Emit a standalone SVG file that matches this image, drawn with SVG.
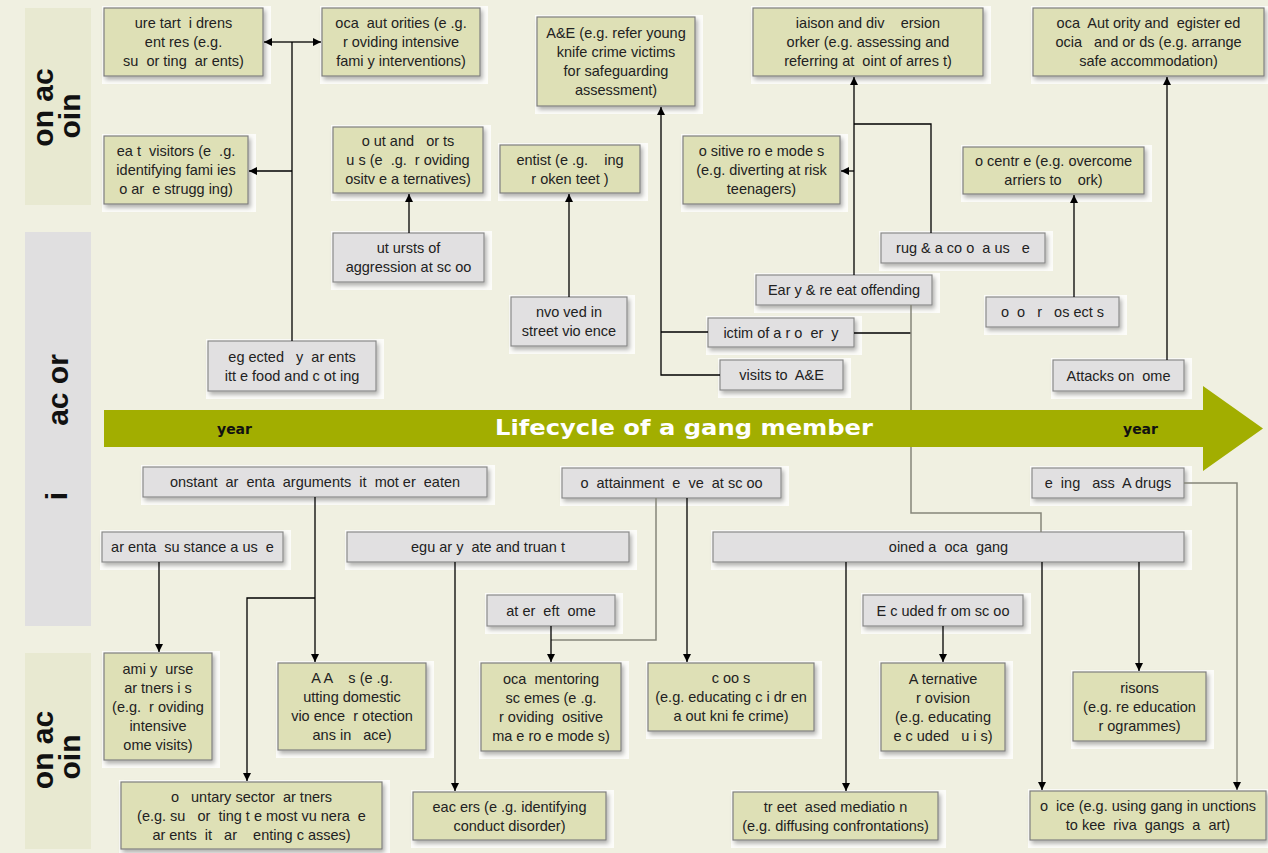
<svg xmlns="http://www.w3.org/2000/svg" width="1268" height="853" viewBox="0 0 1268 853">
<style>
.bg{fill:#f0f0e1}
.pl{fill:#e8e9d1}
.pm{fill:#e0dfe0}
.h{fill:#ffffff;opacity:.8}
.g{fill:#dee0b6;stroke:#7f7f7f;stroke-width:1.2}
.k{fill:#e1e0e1;stroke:#8a8a8a;stroke-width:1.2}
.t{font-family:"Liberation Sans",Arial,sans-serif;font-size:14.5px;fill:#222;text-anchor:middle;white-space:pre}
.pt{font-family:"Liberation Sans",Arial,sans-serif;font-size:30px;font-weight:bold;fill:#111;text-anchor:middle}
.yr{font-family:"DejaVu Sans",sans-serif;font-size:14px;font-weight:bold;fill:#111;text-anchor:middle}
.ti{font-family:"DejaVu Sans",sans-serif;font-size:21px;font-weight:bold;fill:#fff;text-anchor:middle}
.c{fill:none;stroke:#000;stroke-width:1.3}
.cg{fill:none;stroke:#85857a;stroke-width:1.5}
</style>
<defs>
<marker id="ah" viewBox="0 0 10 10" refX="10" refY="5" markerWidth="8" markerHeight="8" markerUnits="userSpaceOnUse" orient="auto"><path d="M0,0L10,5L0,10z" fill="#000"/></marker>
<filter id="sh" x="-10%" y="-10%" width="130%" height="150%"><feDropShadow dx="2" dy="3" stdDeviation="2" flood-color="#000" flood-opacity="0.3"/></filter>
</defs>
<rect class="bg" x="0" y="0" width="1268" height="853"/>
<g id="panels">
<rect class="pl" x="25" y="8" width="66" height="197"/>
<rect class="pm" x="25" y="232" width="66" height="394"/>
<rect class="pl" x="25" y="653" width="66" height="196"/>
<text class="pt" transform="translate(53,107.5) rotate(-90)">on ac</text>
<text class="pt" transform="translate(80,116) rotate(-90)">oin</text>
<text class="pt" transform="translate(68,390) rotate(-90)">ac or</text>
<text class="pt" transform="translate(67,496) rotate(-90)">i</text>
<text class="pt" transform="translate(53,750) rotate(-90)">on ac</text>
<text class="pt" transform="translate(80,757) rotate(-90)">oin</text>
</g>
<g id="n1"><rect class="h" x="102" y="6" width="169" height="78"/><rect class="g" filter="url(#sh)" x="104" y="8" width="159" height="68"/><text class="t" x="183.5" y="28"><tspan x="183.5" y="28">ure tart  i drens</tspan><tspan x="183.5" y="47">ent res (e.g.</tspan><tspan x="183.5" y="66">su  or ting  ar ents)</tspan></text></g>
<g id="n2"><rect class="h" x="320" y="6" width="168" height="78"/><rect class="g" filter="url(#sh)" x="322" y="8" width="158" height="68"/><text class="t"><tspan x="401" y="28">oca  aut orities (e .g.</tspan><tspan x="401" y="47">r oviding intensive</tspan><tspan x="401" y="66">fami y interventions)</tspan></text></g>
<g id="n3"><rect class="h" x="535" y="15" width="168" height="99"/><rect class="g" filter="url(#sh)" x="537" y="17" width="158" height="89"/><text class="t"><tspan x="616" y="38">A&amp;E (e.g. refer young</tspan><tspan x="616" y="57">knife crime victims</tspan><tspan x="616" y="76">for safeguarding</tspan><tspan x="616" y="95">assessment)</tspan></text></g>
<g id="n4"><rect class="h" x="751" y="6" width="240" height="78"/><rect class="g" filter="url(#sh)" x="753" y="8" width="230" height="68"/><text class="t"><tspan x="868" y="28">iaison and div    ersion</tspan><tspan x="868" y="47">orker (e.g. assessing and</tspan><tspan x="868" y="66">referring at  oint of arres t)</tspan></text></g>
<g id="n5"><rect class="h" x="1031" y="6" width="237" height="78"/><rect class="g" filter="url(#sh)" x="1033" y="8" width="231" height="68"/><text class="t"><tspan x="1148.5" y="28">oca  Aut ority and  egister ed</tspan><tspan x="1148.5" y="47">ocia   and or ds (e.g. arrange</tspan><tspan x="1148.5" y="66">safe accommodation)</tspan></text></g>
<g id="n6"><rect class="h" x="102" y="134" width="154" height="78"/><rect class="g" filter="url(#sh)" x="104" y="136" width="144" height="68"/><text class="t"><tspan x="176" y="156">ea t  visitors (e  .g.</tspan><tspan x="176" y="175">identifying fami ies</tspan><tspan x="176" y="194">o ar  e strugg ing)</tspan></text></g>
<g id="n7"><rect class="h" x="331" y="125" width="160" height="76"/><rect class="g" filter="url(#sh)" x="333" y="127" width="150" height="66"/><text class="t"><tspan x="408" y="146">o ut and   or ts</tspan><tspan x="408" y="165">u s (e  .g.  r oviding</tspan><tspan x="408" y="184">ositv e a ternatives)</tspan></text></g>
<g id="n8"><rect class="h" x="498" y="143" width="150" height="58"/><rect class="g" filter="url(#sh)" x="500" y="145" width="140" height="48"/><text class="t"><tspan x="570" y="164.5">entist (e .g.    ing</tspan><tspan x="570" y="183.5">r oken teet )</tspan></text></g>
<g id="n9"><rect class="h" x="681" y="134" width="167" height="78"/><rect class="g" filter="url(#sh)" x="683" y="136" width="157" height="68"/><text class="t"><tspan x="761.5" y="156">o sitive ro e mode s</tspan><tspan x="761.5" y="175">(e.g. diverting at risk</tspan><tspan x="761.5" y="194">teenagers)</tspan></text></g>
<g id="n10"><rect class="h" x="961" y="145" width="191" height="57"/><rect class="g" filter="url(#sh)" x="963" y="147" width="181" height="47"/><text class="t"><tspan x="1053.5" y="166">o centr e (e.g. overcome</tspan><tspan x="1053.5" y="185">arriers to    ork)</tspan></text></g>
<g id="n11"><rect class="h" x="331" y="231" width="161" height="59"/><rect class="k" filter="url(#sh)" x="333" y="233" width="151" height="49"/><text class="t"><tspan x="408.5" y="253">ut ursts of</tspan><tspan x="408.5" y="272">aggression at sc oo</tspan></text></g>
<g id="n12"><rect class="h" x="879" y="231" width="174" height="40"/><rect class="k" filter="url(#sh)" x="881" y="233" width="164" height="30"/><text class="t" x="963" y="253">rug &amp; a co o  a us   e</text></g>
<g id="n13"><rect class="h" x="509" y="295" width="126" height="59"/><rect class="k" filter="url(#sh)" x="511" y="297" width="116" height="49"/><text class="t"><tspan x="569" y="317">nvo ved in</tspan><tspan x="569" y="336">street vio ence</tspan></text></g>
<g id="n14"><rect class="h" x="754" y="273" width="186" height="40"/><rect class="k" filter="url(#sh)" x="756" y="275" width="176" height="30"/><text class="t" x="844" y="295">Ear y &amp; re eat offending</text></g>
<g id="n15"><rect class="h" x="984" y="295" width="143" height="40"/><rect class="k" filter="url(#sh)" x="986" y="297" width="133" height="30"/><text class="t" x="1052.5" y="317">o  o   r   os ect s</text></g>
<g id="n16"><rect class="h" x="706" y="316" width="156" height="39"/><rect class="k" filter="url(#sh)" x="708" y="318" width="146" height="29"/><text class="t" x="781" y="337.5">ictim of a r o  er  y</text></g>
<g id="n17"><rect class="h" x="206" y="339" width="178" height="60"/><rect class="k" filter="url(#sh)" x="208" y="341" width="168" height="50"/><text class="t"><tspan x="292" y="361.5">eg ected   y  ar ents</tspan><tspan x="292" y="380.5">itt e food and c ot ing</tspan></text></g>
<g id="n18"><rect class="h" x="718" y="358" width="133" height="40"/><rect class="k" filter="url(#sh)" x="720" y="360" width="123" height="30"/><text class="t" x="781.5" y="380">visits to  A&amp;E</text></g>
<g id="n19"><rect class="h" x="1051" y="358" width="141" height="41"/><rect class="k" filter="url(#sh)" x="1053" y="360" width="131" height="31"/><text class="t" x="1118.5" y="380.5">Attacks on  ome</text></g>
<g id="n20"><rect class="h" x="141" y="465" width="354" height="40"/><rect class="k" filter="url(#sh)" x="143" y="467" width="344" height="30"/><text class="t" x="315" y="487">onstant  ar  enta  arguments  it  mot er  eaten</text></g>
<g id="n21"><rect class="h" x="560" y="466" width="229" height="40"/><rect class="k" filter="url(#sh)" x="562" y="468" width="219" height="30"/><text class="t" x="671.5" y="488">o  attainment  e  ve  at sc oo</text></g>
<g id="n22"><rect class="h" x="1030" y="466" width="162" height="40"/><rect class="k" filter="url(#sh)" x="1032" y="468" width="152" height="30"/><text class="t" x="1108" y="488">e  ing   ass  A drugs</text></g>
<g id="n23"><rect class="h" x="100" y="530" width="191" height="40"/><rect class="k" filter="url(#sh)" x="102" y="532" width="181" height="30"/><text class="t" x="192.5" y="552">ar enta  su stance a us  e</text></g>
<g id="n24"><rect class="h" x="345" y="530" width="292" height="40"/><rect class="k" filter="url(#sh)" x="347" y="532" width="282" height="30"/><text class="t" x="488" y="552">egu ar y  ate and truan t</text></g>
<g id="n25"><rect class="h" x="711" y="530" width="481" height="40"/><rect class="k" filter="url(#sh)" x="713" y="532" width="471" height="30"/><text class="t" x="948.5" y="552">oined a  oca  gang</text></g>
<g id="n26"><rect class="h" x="485" y="593" width="138" height="41"/><rect class="k" filter="url(#sh)" x="487" y="595" width="128" height="31"/><text class="t" x="551" y="615.5">at er  eft  ome</text></g>
<g id="n27"><rect class="h" x="861" y="593" width="170" height="41"/><rect class="k" filter="url(#sh)" x="863" y="595" width="160" height="31"/><text class="t" x="943" y="615.5">E c uded fr om sc oo</text></g>
<g id="n28"><rect class="h" x="102" y="651" width="118" height="117"/><rect class="g" filter="url(#sh)" x="104" y="653" width="108" height="107"/><text class="t"><tspan x="158" y="673.5">ami y  urse</tspan><tspan x="158" y="692.5">ar tners i s</tspan><tspan x="158" y="711.5">(e.g.  r oviding</tspan><tspan x="158" y="730.5">intensive</tspan><tspan x="158" y="749.5">ome visits)</tspan></text></g>
<g id="n29"><rect class="h" x="276" y="661" width="158" height="97"/><rect class="g" filter="url(#sh)" x="278" y="663" width="148" height="87"/><text class="t"><tspan x="352" y="683">A A    s (e .g.</tspan><tspan x="352" y="702">utting domestic</tspan><tspan x="352" y="721">vio ence  r otection</tspan><tspan x="352" y="740">ans in   ace)</tspan></text></g>
<g id="n30"><rect class="h" x="479" y="661" width="150" height="98"/><rect class="g" filter="url(#sh)" x="481" y="663" width="140" height="88"/><text class="t"><tspan x="551" y="683.5">oca  mentoring</tspan><tspan x="551" y="702.5">sc emes (e .g.</tspan><tspan x="551" y="721.5">r oviding  ositive</tspan><tspan x="551" y="740.5">ma e ro e mode s)</tspan></text></g>
<g id="n31"><rect class="h" x="646" y="661" width="176" height="78"/><rect class="g" filter="url(#sh)" x="648" y="663" width="166" height="68"/><text class="t"><tspan x="731" y="683">c oo s</tspan><tspan x="731" y="702">(e.g. educating c i dr en</tspan><tspan x="731" y="721">a out kni fe crime)</tspan></text></g>
<g id="n32"><rect class="h" x="879" y="661" width="134" height="98"/><rect class="g" filter="url(#sh)" x="881" y="663" width="124" height="88"/><text class="t"><tspan x="943" y="683.5">A ternative</tspan><tspan x="943" y="702.5">r ovision</tspan><tspan x="943" y="721.5">(e.g. educating</tspan><tspan x="943" y="740.5">e c uded   u i s)</tspan></text></g>
<g id="n33"><rect class="h" x="1071" y="670" width="143" height="79"/><rect class="g" filter="url(#sh)" x="1073" y="672" width="133" height="69"/><text class="t"><tspan x="1139.5" y="692.5">risons</tspan><tspan x="1139.5" y="711.5">(e.g. re education</tspan><tspan x="1139.5" y="730.5">r ogrammes)</tspan></text></g>
<g id="n34"><rect class="h" x="119" y="780" width="271" height="73"/><rect class="g" filter="url(#sh)" x="121" y="782" width="261" height="67"/><text class="t"><tspan x="251.5" y="801.5">o   untary sector  ar tners</tspan><tspan x="251.5" y="820.5">(e.g. su   or  ting t e most vu nera  e</tspan><tspan x="251.5" y="839.5">ar ents  it   ar    enting c asses)</tspan></text></g>
<g id="n35"><rect class="h" x="411" y="790" width="203" height="58"/><rect class="g" filter="url(#sh)" x="413" y="792" width="193" height="48"/><text class="t"><tspan x="509.5" y="811.5">eac ers (e .g. identifying</tspan><tspan x="509.5" y="830.5">conduct disorder)</tspan></text></g>
<g id="n36"><rect class="h" x="731" y="790" width="215" height="58"/><rect class="g" filter="url(#sh)" x="733" y="792" width="205" height="48"/><text class="t"><tspan x="835.5" y="811.5">tr eet  ased mediatio n</tspan><tspan x="835.5" y="830.5">(e.g. diffusing confrontations)</tspan></text></g>
<g id="n37"><rect class="h" x="1028" y="789" width="240" height="59"/><rect class="g" filter="url(#sh)" x="1030" y="791" width="236" height="49"/><text class="t"><tspan x="1148" y="811">o  ice (e.g. using gang in unctions</tspan><tspan x="1148" y="830">to kee  riva  gangs  a  art)</tspan></text></g>
<g id="connectors">
<path class="c" d="M292,341V42"/>
<path class="c" d="M292,42H264" marker-end="url(#ah)"/>
<path class="c" d="M292,42H321" marker-end="url(#ah)"/>
<path class="c" d="M292,171H249" marker-end="url(#ah)"/>
<path class="c" d="M409,233V194" marker-end="url(#ah)"/>
<path class="c" d="M569,297V194" marker-end="url(#ah)"/>
<path class="c" d="M720,375H661V107" marker-end="url(#ah)"/>
<path class="c" d="M708,332H661"/>
<path class="c" d="M854,275V77" marker-end="url(#ah)"/>
<path class="c" d="M854,171H841" marker-end="url(#ah)"/>
<path class="c" d="M931,233V124H854"/>
<path class="c" d="M854,333H911"/>
<path class="cg" d="M911,305V513H1041V532"/>
<path class="c" d="M1074,297V195" marker-end="url(#ah)"/>
<path class="c" d="M1167,360V77" marker-end="url(#ah)"/>
<path class="c" d="M159,562V652" marker-end="url(#ah)"/>
<path class="c" d="M315,497V662" marker-end="url(#ah)"/>
<path class="c" d="M315,598H247V781" marker-end="url(#ah)"/>
<path class="c" d="M455,562V791" marker-end="url(#ah)"/>
<path class="cg" d="M656,498V640H551"/>
<path class="c" d="M551,626V662" marker-end="url(#ah)"/>
<path class="c" d="M687,498V662" marker-end="url(#ah)"/>
<path class="c" d="M846,562V791" marker-end="url(#ah)"/>
<path class="c" d="M1042,562V790" marker-end="url(#ah)"/>
<path class="c" d="M1139,562V671" marker-end="url(#ah)"/>
<path class="c" d="M943,626V662" marker-end="url(#ah)"/>
<path class="cg" d="M1184,483H1237V790" marker-end="url(#ah)"/>
</g>
<g id="band">
<path d="M104,410H1203V386L1263,428.5L1203,471V447H104Z" fill="#a2ae00"/>
<text class="ti" x="684" y="435" textLength="378" lengthAdjust="spacingAndGlyphs">Lifecycle of a gang member</text>
<text class="yr" x="234.5" y="434">year</text>
<text class="yr" x="1140.5" y="434">year</text>
</g>
</svg>
